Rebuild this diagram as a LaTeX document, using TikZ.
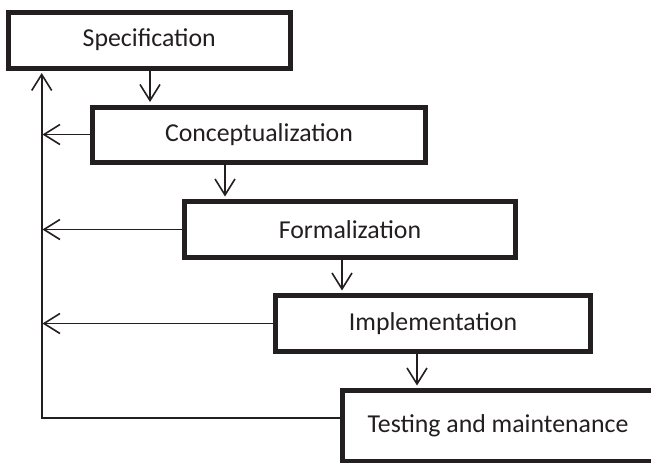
\documentclass[tikz,border=0pt]{standalone}
\usepackage{fontspec}
\setmainfont{Carlito}
\usepackage{tikz}
\usetikzlibrary{arrows.meta}
\definecolor{ln}{RGB}{35,31,32}

\begin{document}
\begin{tikzpicture}[x=1pt,y=-1pt,
  box/.style={rectangle,draw=ln,line width=5pt,fill=white,inner sep=0pt,
    font=\fontsize{25.8}{31}\selectfont,text=ln},
  arr/.style={draw=ln,line width=1.6pt,
    -{Straight Barb[length=16pt,width=20pt,line width=1.6pt]}}]
  \useasboundingbox (0,0) rectangle (651,463);
  \clip (0,0) rectangle (651,463);
  \coordinate (rail) at (41.7,0);
  \node[box,minimum width=281.5pt,minimum height=56pt] (spec) at (149.25,40) {Specification};
  \node[box,minimum width=333pt,minimum height=55pt] (concept) at (259,134.5) {Conceptualization};
  \node[box,minimum width=331pt,minimum height=56pt] (formal) at (350,229.5) {Formalization};
  \node[box,minimum width=315pt,minimum height=56pt] (impl) at (433,323.5) {Implementation};
  \node[box,minimum width=311pt,minimum height=70.5pt] (test) at (498,425.75) {Testing and maintenance};
  % downward steps
  \draw[arr,shorten >=2.5pt] ([xshift=0.75pt]spec.south) -- ([xshift=0.75pt]spec.south |- concept.north);
  \draw[arr,shorten >=2.5pt] ([xshift=-34pt]concept.south) -- ([xshift=-34pt]concept.south |- formal.north);
  \draw[arr,shorten >=2.5pt] ([xshift=-8pt]formal.south) -- ([xshift=-8pt]formal.south |- impl.north);
  \draw[arr,shorten >=2.5pt] ([xshift=-16pt]impl.south) -- ([xshift=-16pt]impl.south |- test.north);
  % feedback to the left rail
  \draw[arr,shorten >=2.5pt] ([yshift=7.75pt]test.west) -| (spec.south -| rail);
  \draw[arr,shorten >=0.75pt] (concept.west) -- (concept.west -| rail);
  \draw[arr,shorten >=0.75pt] (formal.west) -- (formal.west -| rail);
  \draw[arr,shorten >=0.75pt] (impl.west) -- (impl.west -| rail);
\end{tikzpicture}
\end{document}
